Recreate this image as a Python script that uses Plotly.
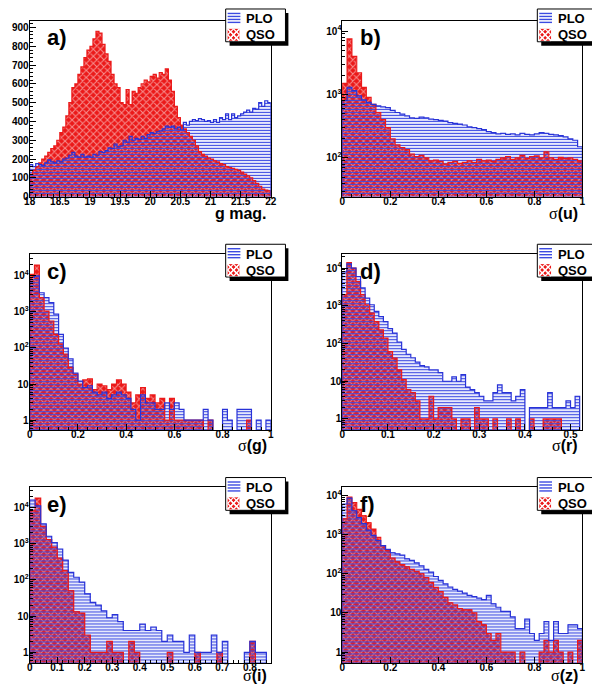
import numpy as np
import plotly.graph_objects as go

W, H = 600, 684

# ---- histogram contents (entries per bin) ----
# a) g magnitude, bins of 0.05 from 18
A_BINS = (18.0, 0.05)
A_PLO = [170, 160, 175, 170, 165, 180, 195, 185, 180, 190,
         185, 200, 205, 220, 235, 215, 210, 225, 210, 215,
         210, 225, 220, 240, 235, 245, 260, 255, 280, 265,
         270, 300, 290, 320, 300, 310, 305, 320, 310, 330,
         340, 335, 345, 350, 360, 375, 370, 375, 360, 370,
         355, 395, 380, 400, 410, 405, 415, 410, 400, 405,
         395, 410, 395, 420, 410, 440, 410, 440, 420, 430,
         440, 450, 460, 450, 470, 465, 500, 480, 510, 500]
A_QSO = [120, 140, 160, 180, 200, 215, 235, 255, 270, 300,
         340, 370, 430, 500, 580, 600, 650, 690, 740, 780,
         800, 840, 880, 870, 810, 760, 720, 650, 600, 580,
         500, 490, 570, 490, 560, 550, 580, 600, 620, 610,
         640, 650, 630, 660, 650, 680, 620, 560, 480, 420,
         380, 360, 340, 320, 300, 270, 240, 225, 215, 205,
         200, 190, 185, 175, 170, 160, 155, 150, 145, 140,
         130, 120, 110, 100, 85, 70, 55, 40, 35, 30]

# b) sigma(u), bins of 0.02
B_BINS = (0.0, 0.02)
B_PLO = [800, 1300, 1150, 950, 820, 750, 700, 660, 640, 620,
         560, 520, 490, 460, 430, 420, 440, 430, 410, 400,
         390, 380, 360, 350, 340, 330, 310, 300, 290, 280,
         260, 250, 240, 245, 235, 240, 230, 245, 235, 230,
         240, 250, 245, 235, 230, 225, 215, 200, 190, 150]
B_QSO = [1500, 7500, 4000, 2200, 1300, 900, 700, 520, 400, 300,
         200, 160, 145, 135, 115, 105, 110, 100, 90, 92,
         88, 80, 85, 88, 82, 85, 90, 85, 95, 90,
         92, 88, 95, 100, 105, 95, 100, 110, 98, 105,
         108, 100, 125, 100, 95, 102, 98, 100, 95, 90]

# c) sigma(g), bins of 0.02
C_BINS = (0.0, 0.02)
C_PLO = [9000, 10000, 3400, 2500, 1800, 870, 240, 100, 50, 20,
         12, 8, 9, 6, 5, 6, 4, 5, 6, 5,
         4, 2, 1, 5, 3, 3, 2, 2, 3, 2,
         3, 2, 1, 1, 1, 1, 2, 1, 0, 0,
         2, 1, 0, 2, 2, 2, 0, 1, 0, 1]
C_QSO = [11000, 20000, 2500, 1060, 560, 240, 130, 68, 29, 19,
         10, 13, 14, 7, 10, 9, 7, 10, 13, 10,
         6, 3, 5, 8, 4, 5, 3, 4, 1, 4,
         1, 1, 1, 1, 1, 1, 0, 1, 0, 0,
         0, 0, 0, 0, 0, 1, 0, 0, 0, 0]

# d) sigma(r), bins of 0.01
D_BINS = (0.0, 0.01)
D_PLO = [8000, 13000, 10000, 6000, 3000, 1600, 1070, 710, 520, 380,
         250, 190, 110, 70, 52, 42, 32, 26, 24, 20,
         20, 17, 10, 10, 13, 10, 15, 7, 6, 5,
         4, 3, 3, 5, 8, 5, 5, 3, 4, 6,
         0, 2, 2, 2, 2, 5, 2, 2, 2, 3,
         2, 4]
D_QSO = [2000, 14000, 10000, 4400, 2000, 1070, 640, 380, 230, 140,
         61, 41, 20, 11, 6, 5, 3, 1, 1, 4,
         1, 2, 2, 2, 1, 0, 1, 1, 0, 2,
         1, 1, 0, 1, 0, 0, 1, 0, 1, 0,
         0, 1, 0, 0, 1, 1, 1, 1, 0, 0,
         0, 0]

# e) sigma(i), bins of 0.02
E_BINS = (0.0, 0.02)
E_PLO = [16000, 11000, 3500, 1600, 1070, 710, 350, 160, 118, 86,
         41, 24, 20, 14, 9, 11, 7, 4, 4, 4,
         6, 4, 5, 4, 2, 3, 2, 2, 1, 3,
         1, 1, 1, 3, 1, 2, 0, 0, 0, 1,
         2, 1, 1, 0]
E_QSO = [8000, 18000, 3000, 1300, 800, 400, 180, 50, 13, 12,
         3, 1, 1, 1, 2, 1, 1, 0, 2, 1,
         0, 0, 0, 0, 0, 1, 0, 0, 0, 0,
         1, 0, 0, 0, 1, 0, 0, 0, 0, 0,
         2, 0, 0, 0]

# f) sigma(z), bins of 0.02
F_BINS = (0.0, 0.02)
F_PLO = [6000, 8500, 4000, 2700, 1900, 1300, 950, 700, 520, 420,
         340, 320, 300, 240, 220, 190, 160, 130, 110, 85,
         68, 55, 46, 40, 36, 32, 28, 26, 24, 22,
         28, 17, 14, 11, 11, 8, 4, 4, 7, 3,
         2, 3, 6, 2, 6, 3, 3, 5, 5, 4]
F_QSO = [2500, 9000, 6500, 4400, 3000, 2000, 1380, 850, 520, 390,
         250, 200, 170, 150, 130, 115, 100, 80, 60, 45,
         35, 25, 18, 16, 13, 12, 12, 10, 6, 5,
         3, 2, 3, 1, 1, 1, 0, 1, 0, 0,
         0, 1, 2, 1, 2, 1, 0, 1, 0, 2]

BLUE = 'rgb(60,75,225)'
BLUE_LINE = 'rgb(40,50,215)'
RED = 'rgb(235,25,25)'
FONT = 'Liberation Sans'
SIG = '<span style="font-family:Liberation Serif;font-weight:normal">σ</span>'

# panel box in pixels (left, top, right, bottom), axis setup
PANELS = [
    dict(lab='a)', plo=A_PLO, qso=A_QSO, bins=A_BINS, box=(16, 13, 262, 190),
         xr=[18, 22], xdt=0.5, log=False, yr=[0, 935], title='<b>g mag.</b>'),
    dict(lab='b)', plo=B_PLO, qso=B_QSO, bins=B_BINS, box=(335, 13, 580, 190),
         xr=[0, 1], xdt=0.2, log=True, yr=[1.39, 4.16], title=SIG + '<b>(u)</b>'),
    dict(lab='c)', plo=C_PLO, qso=C_QSO, bins=C_BINS, box=(16, 248, 262, 425),
         xr=[0, 1], xdt=0.2, log=True, yr=[-0.27, 4.6], title=SIG + '<b>(g)</b>'),
    dict(lab='d)', plo=D_PLO, qso=D_QSO, bins=D_BINS, box=(335, 248, 580, 425),
         xr=[0, 0.526], xdt=0.1, log=True, yr=[-0.29, 4.37], title=SIG + '<b>(r)</b>'),
    dict(lab='e)', plo=E_PLO, qso=E_QSO, bins=E_BINS, box=(16, 483, 262, 660),
         xr=[0, 0.876], xdt=0.1, log=True, yr=[-0.3, 4.55], title=SIG + '<b>(i)</b>'),
    dict(lab='f)', plo=F_PLO, qso=F_QSO, bins=F_BINS, box=(335, 483, 580, 660),
         xr=[0, 1], xdt=0.2, log=True, yr=[-0.28, 4.2], title=SIG + '<b>(z)</b>'),
]
LEG_TOPS = [1, 1, 238, 238, 473, 473]
LEG_LEFTS = [216, 534, 216, 534, 216, 534]
TITLE_DY = [17, 17, 16, 16, 12, 12]


def px(x):
    return x / W


def py(y):
    return 1 - y / H


def step_xy(vals, lo, w, floor):
    """ROOT-like histogram outline"""
    n = len(vals)
    edges = lo + w * np.arange(n + 1)
    v = [floor if c == 0 else c for c in vals]
    xs = [edges[0]] + list(edges[:n]) + [edges[n], edges[n]]
    ys = [floor] + v + [v[-1], floor]
    return xs, ys


fig = go.Figure()
shapes, annots = [], []
tfont = dict(family=FONT, size=10, color='black', weight='bold')

for i, p in enumerate(PANELS, start=1):
    sfx = '' if i == 1 else str(i)
    xa, ya = 'x' + sfx, 'y' + sfx
    lo, w = p['bins']
    n = len(p['plo'])
    left = lo + w * np.arange(n)
    floor = 1e-3 if p['log'] else 0
    qv = [None if (p['log'] and c == 0) else c for c in p['qso']]
    pv = [None if (p['log'] and c == 0) else c for c in p['plo']]

    fig.add_trace(go.Bar(x=left, y=qv, width=w, offset=0, xaxis=xa, yaxis=ya, showlegend=False,
                         marker=dict(color=RED, line=dict(width=0),
                                     pattern=dict(shape='x', fillmode='overlay', bgcolor=RED,
                                                  fgcolor='white', size=5, solidity=0.38))))
    fig.add_trace(go.Bar(x=left, y=pv, width=w, offset=0, xaxis=xa, yaxis=ya, showlegend=False,
                         marker=dict(color=BLUE, line=dict(width=0),
                                     pattern=dict(shape='-', fillmode='replace', size=3, solidity=0.42))))
    for vals, col in ((p['qso'], RED), (p['plo'], BLUE_LINE)):
        xs, ys = step_xy(vals, lo, w, floor)
        fig.add_trace(go.Scatter(x=xs, y=ys, mode='lines', line=dict(color=col, width=1.2, shape='hv'),
                                 xaxis=xa, yaxis=ya, showlegend=False, hoverinfo='skip'))

    l, t, r, b = p['box']
    xax = dict(domain=[px(l), px(r)], anchor=ya, range=p['xr'], dtick=p['xdt'], tick0=0,
               showline=True, linecolor='black', linewidth=1, mirror=True, ticks='inside',
               ticklen=6, tickcolor='black', tickfont=tfont, showgrid=False, zeroline=False,
               ticklabelstandoff=-5,
               minor=dict(ticks='inside', ticklen=3, dtick=p['xdt'] / 5, tickcolor='black'))
    yax = dict(domain=[py(b), py(t)], anchor=xa, showline=True, linecolor='black', linewidth=1,
               mirror=True, ticks='inside', ticklen=6, tickcolor='black', tickfont=tfont,
               showgrid=False, zeroline=False, range=p['yr'], ticklabelstandoff=-2)
    if p['log']:
        yax.update(type='log', tickmode='array', tickvals=[1, 10, 100, 1000, 10000],
                   ticktext=['1', '10', '10<sup>2</sup>', '10<sup>3</sup>', '10<sup>4</sup>'],
                   minor=dict(ticks='inside', ticklen=3, tickcolor='black',
                              tickvals=[k * 10 ** e for e in range(-1, 5) for k in range(2, 10)]))
    else:
        yax.update(dtick=100, minor=dict(ticks='inside', ticklen=3, dtick=20, tickcolor='black'))
    fig.update_layout({'xaxis' + sfx: xax, 'yaxis' + sfx: yax})

    # panel label and axis title
    annots.append(dict(x=px(l + 16), y=py(t + 17), xref='paper', yref='paper', text='<b>%s</b>' % p['lab'],
                       showarrow=False, xanchor='left', yanchor='middle',
                       font=dict(family=FONT, size=22, color='black')))
    annots.append(dict(x=px(r - 2), y=py(b + TITLE_DY[i - 1]), xref='paper', yref='paper', text=p['title'],
                       showarrow=False, xanchor='right', yanchor='middle',
                       font=dict(family=FONT, size=16, color='black')))

    # legend box with shadow (ROOT TLegend)
    L, T = LEG_LEFTS[i - 1], LEG_TOPS[i - 1]
    shapes.append(dict(type='rect', xref='paper', yref='paper', x0=px(L + 4), x1=px(L + 64),
                       y0=py(T + 37), y1=py(T + 4), fillcolor='black', line=dict(width=0)))
    shapes.append(dict(type='rect', xref='paper', yref='paper', x0=px(L), x1=px(L + 61),
                       y0=py(T + 33), y1=py(T), fillcolor='white', line=dict(color='black', width=1)))
    # PLO swatch: horizontal blue lines
    for k in range(4):
        yy = T + 4.5 + 3 * k
        shapes.append(dict(type='line', xref='paper', yref='paper', x0=px(L + 2), x1=px(L + 15),
                           y0=py(yy), y1=py(yy), line=dict(color=BLUE, width=1.4)))
    # QSO swatch: red with white cross hatch
    sx, sy, s = L + 2, T + 20, 12
    shapes.append(dict(type='rect', xref='paper', yref='paper', x0=px(sx), x1=px(sx + s),
                       y0=py(sy + s), y1=py(sy), fillcolor=RED, line=dict(width=0)))
    for d in (0, 6):
        for (xa0, ya0, xa1, ya1) in ((sx, sy + d, sx + s - d, sy + s), (sx + d, sy, sx + s, sy + s - d),
                                     (sx, sy + s - d, sx + s - d, sy), (sx + d, sy + s, sx + s, sy + d)):
            shapes.append(dict(type='line', xref='paper', yref='paper', x0=px(xa0), x1=px(xa1),
                               y0=py(ya0), y1=py(ya1), line=dict(color='white', width=1.3)))
    for txt, yc in (('PLO', T + 10), ('QSO', T + 26)):
        annots.append(dict(x=px(L + 19), y=py(yc), xref='paper', yref='paper', text='<b>%s</b>' % txt,
                           showarrow=False, xanchor='left', yanchor='middle',
                           font=dict(family=FONT, size=13, color='black')))

fig.update_layout(width=W, height=H, margin=dict(l=0, r=0, t=0, b=0), barmode='overlay', bargap=0,
                  paper_bgcolor='white', plot_bgcolor='white', shapes=shapes, annotations=annots,
                  font=dict(family=FONT))
fig.write_html('out.html')
